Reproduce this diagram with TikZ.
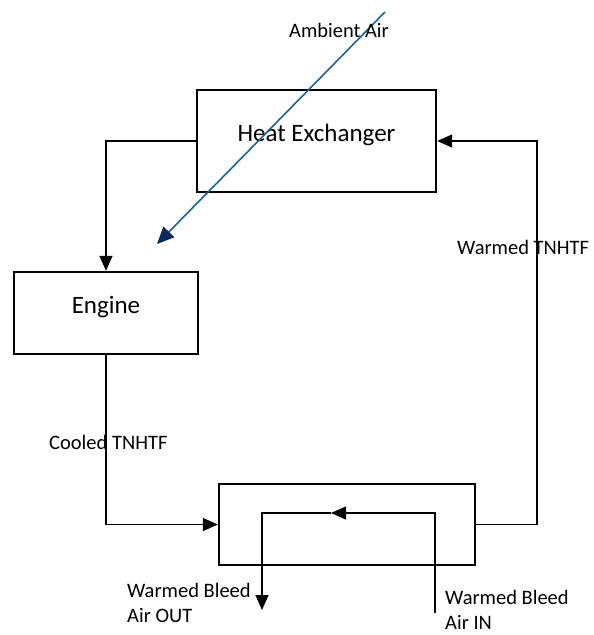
\documentclass[tikz,border=0pt]{standalone}
\usepackage{fontspec}
\setmainfont{Carlito}
\usetikzlibrary{positioning,arrows.meta}

\tikzset{
	unit/.style={draw, line width=2.4pt, inner sep=0pt, text depth=16pt,
		font=\fontsize{25}{30}\selectfont},
	flow/.style={line width=1.3pt, -{Triangle[length=15pt,width=13pt]}},
	air/.style={line width=1.6pt, color=airblue, -{Triangle[length=17pt,width=15pt,color=airtip]}},
	tag/.style={font=\fontsize{20.5}{25}\selectfont, inner sep=0pt},
}
\definecolor{airblue}{HTML}{1F6391}
\definecolor{airtip}{HTML}{0B2A5C}

\begin{document}
\begin{tikzpicture}[x=1pt,y=-1pt]
		\useasboundingbox (0,0) rectangle (594,635);
		% components
		\node[unit, minimum width=239pt, minimum height=102pt] (hx) at (316.5,141) {Heat Exchanger};
		\node[unit, minimum width=184pt, minimum height=82pt] (eng) at (106,313) {Engine};
		\node[unit, minimum width=256pt, minimum height=81pt] (hex) at (347,524.5) {};
		%
		\coordinate (rt) at (537,0);
		\coordinate (bleedin) at (435,613);
		\coordinate (bleedmid) at (331,513);
		\coordinate (bleedout) at (262,610);
		\coordinate (airin) at (385,12);
		\coordinate (airout) at (157,244);
		%
		\draw[flow] (hx.west) -| (eng.north);
		\draw[flow] (eng.south) |- (hex.west);
		\draw[flow] (hex.east) -| (rt |- hx.east) -- (hx.east);
		\draw[flow] (bleedin) |- (bleedmid);
		\draw[flow] (bleedmid) -| (bleedout);
		\draw[air] (airin) -- (airout);
		% labels
		\node[tag] (ambient) at (339,30) {Ambient Air};
		\node[tag, anchor=west] (cooled) at (49,442) {Cooled TNHTF};
		\node[tag, anchor=west] (warmed) at (457,247) {Warmed TNHTF};
		\node[tag, anchor=west, align=left] (bleedoutlbl) at (127,603) {Warmed Bleed\\Air OUT};
		\node[tag, anchor=west, align=left] (bleedinlbl) at (445,610) {Warmed Bleed\\Air IN};
\end{tikzpicture}
\end{document}
